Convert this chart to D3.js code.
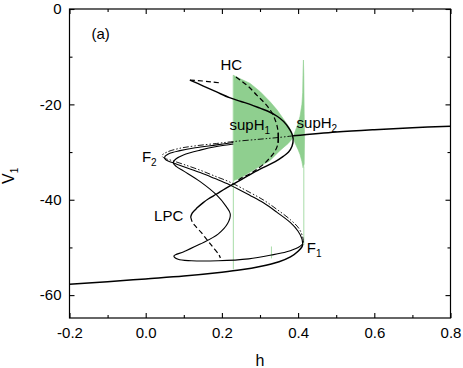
<!DOCTYPE html>
<html>
<head>
<meta charset="utf-8">
<script src="https://cdn.jsdelivr.net/npm/d3@7"></script>
<style>
  body { margin: 0; background: #fff; }
  text { font-family: Arial, "Liberation Sans", sans-serif; fill: #000; }
</style>
</head>
<body>
<script>
// ---- data: [h, V1] ----
const xTicks = [-0.2, 0.0, 0.2, 0.4, 0.6, 0.8];
const xMinor = [-0.1, 0.1, 0.3, 0.5, 0.7];
const yTicks = [0, -20, -40, -60];
const yMinor = [-10, -30, -50];

// equilibrium, lower stable branch up to the fold F1
const eqLower = [[-0.2,-57.7],[-0.1,-57.2],[0,-56.6],[0.1,-56.0],[0.2,-55.2],[0.25,-54.7],[0.3,-54.0],
  [0.35,-53.0],[0.38,-52.0],[0.40,-50.8],[0.41,-49.9],[0.412,-49.3]];
// middle branch F1 -> F2 -> upper arm (solid)
const eqMiddle = [[0.412,-49.3],[0.41,-48.2],[0.40,-46.6],[0.38,-44.8],[0.344,-42.6],[0.31,-40.7],
  [0.274,-39.1],[0.221,-36.9],[0.18,-35.5],[0.143,-34.3],[0.10,-33.1],[0.07,-32.2],[0.052,-31.6],
  [0.05,-31.0],[0.062,-30.3],[0.09,-29.7],[0.13,-29.1],[0.186,-28.5],[0.23,-28.0]];
// unstable equilibrium drawn dash-dot-dot, up to supH2
const eqDashDot = [[0.414,-49.0],[0.412,-47.8],[0.402,-46.0],[0.38,-44.2],[0.344,-42.0],[0.31,-40.1],
  [0.274,-38.5],[0.221,-36.3],[0.18,-35.0],[0.143,-33.8],[0.10,-32.6],[0.07,-31.8],[0.047,-31.2],
  [0.043,-30.7],[0.056,-30.0],[0.09,-29.2],[0.13,-28.7],[0.186,-28.2],[0.23,-27.8],[0.30,-27.3],
  [0.348,-26.95],[0.387,-26.6]];
// upper stable branch after supH2
const eqUpper = [[0.387,-26.6],[0.5,-25.8],[0.6,-25.3],[0.7,-24.9],[0.8,-24.6]];
// inner S curve
const innerS = [[0.23,-28.3],[0.19,-28.8],[0.143,-29.6],[0.099,-30.6],[0.08,-31.4],[0.072,-32.2],
  [0.08,-33.0],[0.10,-34.0],[0.143,-36.2],[0.186,-39.0],[0.212,-41.5],[0.222,-43.0],[0.215,-45.0],
  [0.19,-47.2],[0.143,-49.3],[0.10,-50.9],[0.074,-51.8],[0.085,-52.5],[0.12,-52.8],[0.19,-52.8],
  [0.27,-52.4],[0.33,-51.6],[0.37,-50.9],[0.40,-50.0],[0.412,-49.3]];

// stable cycle (max and min) from supH2 to LPC
const cycleStable = [[0.116,-14.9],[0.15,-16.1],[0.186,-17.4],[0.22,-18.6],[0.25,-19.4],[0.274,-20.0],
  [0.30,-20.8],[0.325,-21.6],[0.345,-22.5],[0.362,-23.6],[0.375,-24.9],[0.383,-26.0],[0.387,-27.2],
  [0.384,-28.8],[0.375,-30.0],[0.361,-30.9],[0.34,-32.0],[0.30,-33.6],[0.27,-34.9],[0.239,-36.3],
  [0.21,-37.6],[0.186,-38.8],[0.165,-39.8],[0.151,-40.6],[0.135,-41.7],[0.122,-42.8],[0.118,-43.6]];
// unstable cycle after LPC
const lpcUpper = [[0.116,-14.9],[0.15,-15.1],[0.175,-15.3],[0.196,-15.5]];
const lpcLower = [[0.118,-43.6],[0.122,-44.6],[0.129,-45.4],[0.145,-46.8],[0.159,-48.2],[0.175,-49.8],
  [0.191,-51.4],[0.196,-52.2]];
// cycle from supH1 to HC
const hcUpper = [[0.348,-27.0],[0.347,-25.5],[0.343,-24.0],[0.331,-21.7],[0.313,-19.8],[0.292,-18.1],
  [0.269,-16.2],[0.248,-14.9],[0.23,-13.9]];
const hcLower = [[0.348,-27.0],[0.346,-28.6],[0.338,-30.0],[0.326,-31.2],[0.31,-32.5],[0.29,-33.7],
  [0.27,-34.7],[0.25,-35.5],[0.239,-36.1]];

// simulation envelope (green)
const simTop = [[0.23,-13.9],[0.25,-14.7],[0.274,-15.6],[0.30,-17.3],[0.327,-19.5],[0.345,-21.2],
  [0.361,-23.0],[0.375,-24.6],[0.383,-25.8],[0.387,-26.8],[0.393,-25.5],[0.40,-24.0],[0.405,-22.5],
  [0.41,-20.0],[0.412,-17.5],[0.413,-13.0],[0.414,-10.7],[0.415,-14.0],[0.416,-22.0],[0.417,-27.0]];
const simBottom = [[0.23,-36.0],[0.25,-35.4],[0.274,-34.2],[0.30,-33.0],[0.326,-31.8],[0.352,-29.7],
  [0.374,-28.2],[0.387,-27.0],[0.393,-28.3],[0.40,-29.5],[0.405,-30.5],[0.41,-32.0],[0.413,-33.3],
  [0.416,-32.5],[0.417,-27.0]];
const simLines = [[0.23,-13.9,-54.6],[0.415,-33.0,-49.5],[0.33,-49.8,-52.3]];

// labels: text, subscript, h, V
const labels = [
  ["HC", "", 0.196, -12.8],
  ["supH", "1", 0.22, -25.4],
  ["supH", "2", 0.396, -25.0],
  ["F", "2", -0.01, -32.0],
  ["LPC", "", 0.022, -44.4],
  ["F", "1", 0.423, -51.2]
];

const width = 463, height = 368;
const margin = {top: 9, right: 12.5, bottom: 50, left: 69.5};

const svg = d3.select("body").append("svg")
  .attr("width", width)
  .attr("height", height);

const x = d3.scaleLinear().domain([-0.2, 0.8]).range([margin.left, width - margin.right]);
const y = d3.scaleLinear().domain([-64.8, 0]).range([height - margin.bottom, margin.top]);

const line = d3.line().x(d => x(d[0])).y(d => y(d[1])).curve(d3.curveCatmullRom.alpha(0.5));

// green simulation
const simPoly = simTop.concat(simBottom.slice().reverse());
svg.append("path")
  .attr("d", d3.line().x(d => x(d[0])).y(d => y(d[1]))(simPoly) + "Z")
  .attr("fill", "#8fcf8f")
  .attr("stroke", "#8fcf8f")
  .attr("stroke-width", 0.6);
svg.selectAll(".simline").data(simLines).enter().append("line")
  .attr("x1", d => x(d[0])).attr("x2", d => x(d[0]))
  .attr("y1", d => y(d[1])).attr("y2", d => y(d[2]))
  .attr("stroke", "#a8dca8").attr("stroke-width", 1);

function curve(data, w, dash) {
  svg.append("path")
    .attr("d", line(data))
    .attr("fill", "none")
    .attr("stroke", "#000")
    .attr("stroke-width", w)
    .attr("stroke-dasharray", dash || null);
}

curve(eqLower, 1.5);
curve(eqMiddle, 1.1);
curve(eqDashDot, 0.9, "6,2,1.5,2,1.5,2");
curve(eqUpper, 1.5);
curve(innerS, 1.1);
curve(cycleStable, 1.4);
curve(lpcUpper, 1.2, "5,3");
curve(lpcLower, 1.2, "5,3");
curve(hcUpper, 1.2, "5,3");
curve(hcLower, 1.2, "5,3");

// supH1 marker
svg.append("line")
  .attr("x1", x(0.348)).attr("x2", x(0.348))
  .attr("y1", y(-27.0) - 5).attr("y2", y(-27.0) + 5)
  .attr("stroke", "#000").attr("stroke-width", 1.2);

// labels
const lab = svg.selectAll(".lab").data(labels).enter().append("text")
  .attr("x", d => x(d[2]))
  .attr("y", d => y(d[3]))
  .style("font-size", "15px");
lab.append("tspan").text(d => d[0]);
lab.append("tspan").attr("dy", 4).style("font-size", "10px").text(d => d[1]);

svg.append("text").attr("x", 91.5).attr("y", 39).style("font-size", "15px").text("(a)");

// axes with inward ticks, labels with plain hyphen minus
const fmtX = d => d.toFixed(1);
const fmtY = d => String(d);
svg.append("g").attr("transform", `translate(0,${height - margin.bottom})`)
  .call(d3.axisBottom(x).tickValues(xTicks).tickSize(-5).tickPadding(9).tickFormat(fmtX));
svg.append("g").attr("transform", `translate(0,${height - margin.bottom})`)
  .call(d3.axisBottom(x).tickValues(xMinor).tickSize(-3).tickFormat(""));
svg.append("g").attr("transform", `translate(0,${margin.top})`)
  .call(d3.axisTop(x).tickValues(xTicks).tickSize(-5).tickFormat(""));
svg.append("g").attr("transform", `translate(0,${margin.top})`)
  .call(d3.axisTop(x).tickValues(xMinor).tickSize(-3).tickFormat(""));
svg.append("g").attr("transform", `translate(${margin.left},0)`)
  .call(d3.axisLeft(y).tickValues(yTicks).tickSize(-5).tickPadding(8).tickFormat(fmtY));
svg.append("g").attr("transform", `translate(${margin.left},0)`)
  .call(d3.axisLeft(y).tickValues(yMinor).tickSize(-3).tickFormat(""));
svg.append("g").attr("transform", `translate(${width - margin.right},0)`)
  .call(d3.axisRight(y).tickValues(yTicks).tickSize(-5).tickFormat(""));
svg.append("g").attr("transform", `translate(${width - margin.right},0)`)
  .call(d3.axisRight(y).tickValues(yMinor).tickSize(-3).tickFormat(""));

svg.selectAll(".domain").remove();
svg.selectAll(".tick line").attr("stroke", "#000").attr("stroke-width", 1.1);
svg.selectAll(".tick text").style("font-size", "15px").style("font-family", "Arial, 'Liberation Sans', sans-serif");

svg.append("rect")
  .attr("x", margin.left).attr("y", margin.top)
  .attr("width", width - margin.left - margin.right)
  .attr("height", height - margin.top - margin.bottom)
  .attr("fill", "none").attr("stroke", "#000").attr("stroke-width", 1.2);

// axis titles
svg.append("text").attr("x", (margin.left + width - margin.right) / 2).attr("y", 366)
  .attr("text-anchor", "middle").style("font-size", "16px").text("h");
const yt = svg.append("text").attr("transform", "translate(14,184) rotate(-90)")
  .style("font-size", "16px");
yt.append("tspan").text("V");
yt.append("tspan").attr("dy", 4).style("font-size", "10px").text("1");
</script>
</body>
</html>
